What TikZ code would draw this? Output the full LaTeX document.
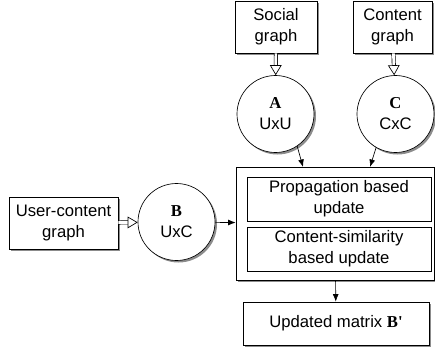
\documentclass[tikz,border=0pt]{standalone}
\usepackage{fontspec}
\setmainfont{Liberation Sans}
\newfontfamily\mtxfont{Liberation Serif}
\usetikzlibrary{arrows.meta,shadows}
\newcommand{\mtx}[1]{{\mtxfont\bfseries #1}}

\begin{document}
\begin{tikzpicture}[x=0.6pt,y=-0.6pt,
		font=\fontsize{10}{12.6}\selectfont,
		shade/.style={drop shadow={shadow xshift=1.2pt,shadow yshift=-1.2pt,opacity=0.45,fill=black}},
		graphbox/.style={draw,fill=white,shade,align=center,minimum width=49pt,minimum height=31.2pt,inner sep=1pt},
		matrixnode/.style={draw,circle,fill=white,shade,align=center,minimum size=46.2pt,inner sep=0pt},
		stepbox/.style={draw,fill=white,align=center,minimum width=110.4pt,minimum height=26.4pt,inner sep=1pt},
		hollow/.style={double,double distance=1.6pt,-{Triangle[open,length=6pt,width=7pt]}},
		solid arrow/.style={-{Latex[length=4.5pt,width=3.5pt]}}]
	\useasboundingbox (0,0) rectangle (435,354);
	% inputs
	\node[graphbox] (social) at (276,27) {Social\\graph};
	\node[graphbox,minimum width=47.4pt] (content) at (392.5,27) {Content\\graph};
	\node[graphbox,minimum width=65.4pt] (usercontent) at (63.5,223) {User-content\\graph};
	% matrices
	\node[matrixnode] (A) at (275.5,114) {\mtx{A}\\UxU};
	\node[matrixnode] (C) at (395.5,114) {\mtx{C}\\CxC};
	\node[matrixnode] (B) at (176.5,222) {\mtx{B}\\UxC};
	% update block
	\node[draw,fill=white,shade,minimum width=118.8pt,minimum height=67.8pt] (update) at (335,223.5) {};
	\node[stepbox] (prop) at (339,199) {Propagation based\\update};
	\node[stepbox] (sim) at (339,249) {Content-similarity\\based update};
	\node[graphbox,minimum width=111.6pt,minimum height=25.8pt] (result) at (336,323.5) {Updated matrix \mtx{B'}};
	\coordinate (inA) at (303,167);
	\coordinate (inC) at (370,167);
	% connectors
	\draw[hollow] (social) -- (A);
	\draw[hollow] (content) -- (C);
	\draw[hollow] (usercontent) -- (B);
	\draw[solid arrow] (A.-56) -- (inA);
	\draw[solid arrow] (C.-120) -- (inC);
	\draw[solid arrow] (B) -- (update);
	\draw[solid arrow] (update) -- (result);
\end{tikzpicture}
\end{document}
